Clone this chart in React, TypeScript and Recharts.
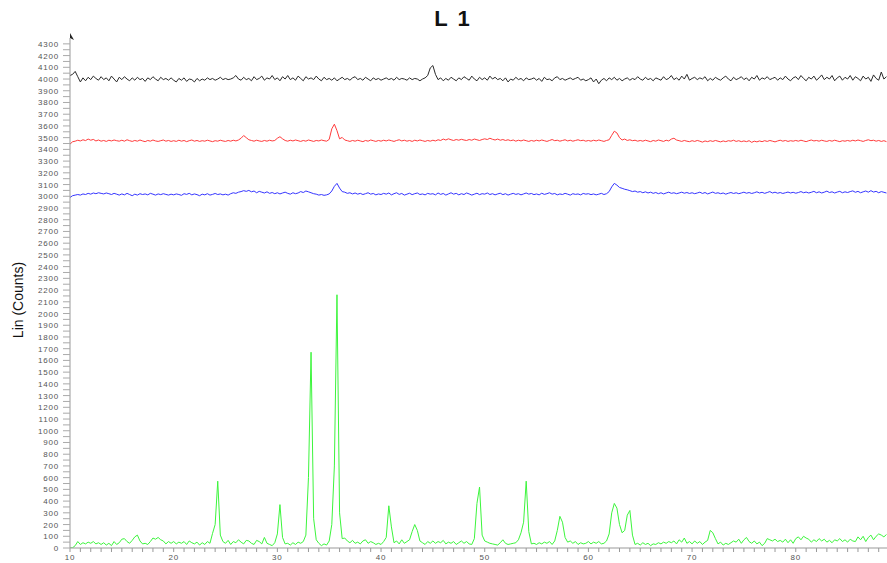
import { Line, LineChart, XAxis, YAxis } from 'recharts';

// 2-theta grid: 10 -> 88.75 deg, 0.25 deg step (rows below are 5 deg each)
const ANGLE_START = 10;
const ANGLE_STEP = 0.25;

const BLACK = [
  4030, 4040, 4065, 4020, 3975, 4010, 3985, 4015, 3995, 4025, 4005, 3990, 4020, 3995, 4010, 3985, 4025, 4000, 3975, 4015,
  3995, 4020, 4000, 3985, 4010, 3990, 4015, 3995, 4005, 3980, 4010, 3995, 4020, 4000, 3985, 4015, 3995, 4005, 3990, 4010,
  3990, 3975, 4005, 3990, 4010, 3980, 4000, 3995, 3975, 4005, 3985, 4000, 3990, 4010, 3995, 4005, 3990, 4000, 4015, 3995,
  4005, 3995, 4000, 4010, 4030, 4000, 3990, 4015, 3995, 4005, 3985, 4020, 3995, 4005, 4025, 3990, 4010, 4000, 4030, 3995,
  4010, 3985, 4020, 4000, 4030, 3995, 4010, 3990, 4025, 4005, 3985, 4020, 4000, 4010, 3995, 4025, 4000, 3985, 4015, 3995,
  4005, 3990, 4010, 3985, 4000, 4015, 3995, 4005, 3990, 4010, 4020, 3995, 4005, 3990, 4015, 4000, 3985, 4010, 3995, 4005,
  3990, 4000, 4010, 3995, 4005, 3990, 4015, 3995, 4005, 4000, 3990, 4010, 3995, 4005, 4000, 3985, 4000, 4010, 4030, 4095,
  4115, 4040, 3995, 4010, 3985, 4005, 3990, 4015, 4000, 3985, 4010, 3995, 4020, 4005, 3990, 4025, 4000, 3985, 4015, 3995,
  4010, 3990, 4025, 4000, 4015, 3995, 4005, 3985, 4010, 3975, 4000, 3990, 4015, 3995, 4005, 3985, 4010, 3995, 4000, 4010,
  3990, 4005, 3980, 4015, 3995, 4000, 3985, 4010, 4020, 3995, 4005, 3990, 4000, 4010, 3995, 4005, 4015, 3990, 4000, 3985,
  3995, 4010, 3975, 4000, 3960, 3990, 4005, 3985, 4010, 3995, 4015, 3990, 4005, 3985, 4000, 4010, 3990, 4005, 3995, 4020,
  4000, 3990, 4015, 3995, 4005, 3985, 4010, 4000, 3990, 4020, 3995, 4005, 4030, 3995, 4010, 3990, 4025, 4000, 4040, 3990,
  4005, 4015, 3995, 4010, 4000, 4020, 3985, 4005, 3990, 4015, 4000, 3990, 4010, 4025, 4000, 3985, 4015, 3995, 4005, 4020,
  3995, 4010, 3985, 4015, 4000, 4030, 3990, 4010, 4000, 4020, 3995, 4005, 4015, 3990, 4010, 3995, 4025, 4000, 3985, 4010,
  4020, 3995, 4030, 4005, 3985, 4015, 4000, 4025, 3990, 4010, 4035, 3995, 4015, 4000, 4030, 3985, 4010, 4025, 3990, 4015,
  4000, 4030, 3990, 4020, 4005, 3985, 4025, 4000, 4015, 3980, 4035, 4005, 3990, 4060, 4000, 4020,
];

const RED = [
  3445, 3465, 3470, 3478, 3472, 3482, 3475, 3488, 3478, 3485, 3472, 3480, 3470, 3476, 3468, 3478, 3472, 3480, 3474, 3470,
  3478, 3470, 3482, 3474, 3468, 3476, 3470, 3480, 3472, 3466, 3476, 3470, 3480, 3472, 3468, 3474, 3480, 3470, 3476, 3468,
  3474, 3468, 3478, 3470, 3476, 3466, 3474, 3480, 3470, 3476, 3468, 3474, 3470, 3478, 3472, 3466, 3474, 3470, 3478, 3472,
  3468, 3476, 3470, 3478, 3472, 3480, 3495, 3518, 3500, 3482, 3476, 3470, 3478, 3472, 3468, 3476, 3470, 3478, 3472, 3476,
  3495, 3508, 3490, 3476, 3470, 3478, 3472, 3480, 3474, 3468, 3476, 3470, 3480, 3474, 3468, 3476, 3472, 3480, 3474, 3470,
  3485, 3575, 3615, 3560, 3490, 3502, 3480, 3474, 3468, 3476, 3470, 3478, 3472, 3466, 3476, 3470, 3480, 3474, 3468, 3476,
  3470, 3478, 3472, 3480, 3474, 3468, 3476, 3482, 3472, 3478, 3470, 3476, 3468, 3478, 3472, 3480, 3474, 3468, 3476, 3470,
  3478, 3472, 3482, 3476, 3488, 3480, 3490, 3482, 3476, 3484, 3478, 3486, 3480, 3476, 3484, 3478, 3488, 3482, 3476, 3484,
  3490, 3484, 3495, 3486, 3480, 3488, 3478, 3484, 3476, 3482, 3474, 3480, 3470, 3478, 3472, 3480, 3474, 3468, 3476, 3470,
  3478, 3472, 3480, 3474, 3468, 3476, 3484, 3474, 3478, 3470, 3476, 3482, 3472, 3478, 3470, 3476, 3482, 3474, 3478, 3470,
  3476, 3470, 3478, 3472, 3480, 3474, 3468, 3476, 3482, 3520, 3555, 3540, 3500, 3480, 3488, 3476, 3482, 3474, 3478, 3470,
  3476, 3470, 3478, 3472, 3466, 3476, 3470, 3480, 3474, 3468, 3478, 3472, 3488, 3495, 3480, 3474, 3468, 3476, 3470, 3466,
  3474, 3468, 3476, 3470, 3462, 3472, 3466, 3474, 3468, 3476, 3470, 3464, 3472, 3466, 3474, 3470, 3478, 3468, 3474, 3466,
  3472, 3466, 3474, 3460, 3470, 3464, 3472, 3466, 3474, 3468, 3476, 3470, 3464, 3472, 3478, 3470, 3476, 3468, 3474, 3470,
  3476, 3470, 3478, 3472, 3466, 3474, 3480, 3472, 3476, 3470, 3478, 3472, 3468, 3476, 3470, 3478, 3472, 3466, 3474, 3470,
  3476, 3470, 3478, 3472, 3480, 3474, 3468, 3476, 3482, 3474, 3478, 3470, 3476, 3468, 3474, 3466,
];

const BLUE = [
  2990, 3005, 3010, 3015, 3010, 3020, 3015, 3025, 3018, 3028, 3022, 3030, 3025, 3020, 3028, 3022, 3015, 3025, 3018, 3010,
  3020, 3012, 3025, 3015, 3005, 3018, 3010, 3022, 3015, 3020, 3012, 3025, 3018, 3010, 3020, 3014, 3022, 3016, 3010, 3018,
  3012, 3020, 3015, 3008, 3022, 3016, 3025, 3012, 3020, 3014, 3005, 3018, 3012, 3022, 3010, 3016, 3024, 3015, 3020, 3012,
  3018, 3010, 3022, 3030, 3025, 3035, 3040, 3048, 3042, 3050, 3038, 3045, 3030, 3042, 3035, 3028, 3038, 3025, 3032, 3022,
  3030, 3020, 3028, 3035, 3025, 3018, 3030, 3022, 3028, 3040, 3032, 3045, 3038, 3030, 3022, 3018, 3010, 3015, 3008, 3012,
  3020, 3045, 3085, 3110, 3070, 3040, 3035, 3025, 3030, 3020, 3028, 3018, 3025, 3015, 3022, 3030, 3018, 3024, 3012, 3020,
  3015, 3025, 3018, 3028, 3012, 3022, 3030, 3016, 3024, 3010, 3018, 3026, 3014, 3022, 3028, 3015, 3020, 3012, 3025, 3018,
  3022, 3012, 3028, 3016, 3024, 3010, 3020, 3030, 3018, 3025, 3012, 3022, 3015, 3028, 3020, 3010, 3018, 3026, 3014, 3022,
  3018, 3028, 3015, 3022, 3012, 3020, 3026, 3014, 3022, 3010, 3018, 3025, 3016, 3022, 3012, 3020, 3028, 3018, 3024, 3014,
  3020, 3012, 3026, 3016, 3022, 3030, 3018, 3024, 3012, 3020, 3015, 3025, 3018, 3010, 3022, 3016, 3020, 3012, 3024, 3018,
  3022, 3014, 3020, 3012, 3018, 3025, 3015, 3022, 3040, 3080, 3110, 3095, 3075, 3068, 3060, 3055, 3048, 3040, 3045, 3035,
  3040, 3030, 3038, 3028, 3035, 3025, 3032, 3022, 3030, 3020, 3028, 3035, 3025, 3030, 3022, 3028, 3035, 3026, 3032, 3024,
  3030, 3022, 3028, 3035, 3024, 3032, 3020, 3028, 3036, 3025, 3030, 3022, 3028, 3018, 3026, 3032, 3024, 3030, 3022, 3028,
  3035, 3026, 3032, 3024, 3030, 3038, 3028, 3034, 3025, 3032, 3040, 3028, 3035, 3026, 3032, 3024, 3030, 3036, 3028, 3034,
  3026, 3032, 3040, 3030, 3036, 3028, 3034, 3042, 3030, 3038, 3028, 3035, 3044, 3032, 3038, 3028, 3036, 3042, 3030, 3038,
  3032, 3040, 3046, 3034, 3042, 3030, 3038, 3045, 3035, 3048, 3036, 3042, 3030, 3040, 3034, 3028,
];

const GREEN = [
  0, 2, 20, 55, 30, 45, 35, 50, 40, 55, 35, 45, 30, 45, 25, 40, 20, 55, 30, 45,
  75, 80, 55, 40, 65, 95, 110, 60, 35, 40, 30, 55, 85, 75, 90, 70, 60, 35, 55, 40,
  55, 35, 50, 40, 55, 30, 60, 45, 35, 50, 25, 45, 30, 55, 40, 125, 200, 570, 110, 55,
  40, 65, 30, 55, 45, 70, 50, 35, 65, 60, 40, 30, 65, 55, 35, 90, 40, 30, 20, 45,
  120, 370, 90, 35, 40, 25, 45, 30, 50, 40, 55, 110, 600, 1670, 250, 70, 40, 20, 35, 25,
  60, 200, 700, 2160, 300, 80, 85, 60, 45, 65, 40, 50, 35, 60, 70, 40, 55, 45, 30, 40,
  30, 55, 90, 360, 180, 45, 60, 35, 70, 40, 55, 70, 140, 200, 150, 60, 45, 30, 55, 40,
  60, 40, 55, 45, 65, 35, 50, 40, 55, 30, 45, 60, 40, 55, 35, 30, 80, 380, 520, 110,
  60, 50, 40, 35, 30, 25, 45, 70, 40, 30, 35, 40, 45, 70, 130, 220, 570, 140, 35, 40,
  30, 45, 35, 50, 40, 55, 30, 60, 150, 270, 220, 90, 50, 60, 40, 55, 30, 45, 35, 40,
  55, 35, 50, 40, 55, 35, 40, 60, 120, 300, 380, 340, 200, 130, 150, 280, 320, 110, 30, 40,
  25, 45, 30, 40, 20, 35, 30, 45, 35, 50, 40, 55, 45, 60, 35, 70, 50, 85, 40, 55,
  35, 60, 40, 55, 30, 50, 65, 150, 130, 80, 35, 50, 25, 40, 30, 45, 60, 50, 75, 40,
  70, 90, 55, 40, 60, 35, 50, 20, 40, 80, 70, 60, 75, 55, 65, 50, 75, 45, 70, 40,
  80, 95, 70, 100, 85, 75, 50, 70, 55, 80, 60, 75, 50, 65, 45, 70, 60, 80, 55, 70,
  50, 75, 60, 55, 95, 70, 100, 55, 90, 110, 70, 100, 120, 110, 95, 115,
];

const X_LABELS = [10, 20, 30, 40, 50, 60, 70, 80];
const Y_MAX = 4350;
const Y_LABEL_TOP = 4300;

const data = GREEN.map((g, i) => ({
  angle: ANGLE_START + i * ANGLE_STEP,
  black: BLACK[i],
  red: RED[i],
  blue: BLUE[i],
  green: g,
}));

// minor ticks every 1 deg / every 50 counts, labels only on the round ones
const xTicks = Array.from({ length: 79 }, (_, i) => 10 + i);
const yTicks = Array.from({ length: Y_LABEL_TOP / 50 + 1 }, (_, i) => i * 50);

const tickFont = "'Liberation Sans', Arial, sans-serif";

function YTick(props: any) {
  const { x, y, payload } = props;
  if (payload.value % 100 !== 0) return <g />;
  return (
    <text x={x} y={y} dy={3} textAnchor="end" fontSize={8} letterSpacing={0.8} fill="#555" fontFamily={tickFont}>
      {payload.value}
    </text>
  );
}

function XTick(props: any) {
  const { x, y, payload } = props;
  if (!X_LABELS.includes(payload.value)) return <g />;
  return (
    <text x={x} y={y} dy={6} textAnchor="middle" fontSize={8} letterSpacing={0.8} fill="#555" fontFamily={tickFont}>
      {payload.value}
    </text>
  );
}

export default function App() {
  return (
    <div style={{ position: 'absolute', left: 0, top: 0, width: 887, height: 563, background: '#fff', overflow: 'hidden' }}>
      <div
        style={{
          position: 'absolute',
          left: 0,
          width: 906,
          top: 6,
          textAlign: 'center',
          fontFamily: "'Liberation Sans', Arial, sans-serif",
          fontWeight: 'bold',
          fontSize: 22,
          letterSpacing: 2,
          color: '#111',
        }}
      >
        L 1
      </div>
      <div
        style={{
          position: 'absolute',
          left: 18,
          top: 300,
          transform: 'translate(-50%, -50%) rotate(-90deg)',
          whiteSpace: 'nowrap',
          fontFamily: "'Liberation Sans Narrow', 'Liberation Sans', Arial, sans-serif",
          fontSize: 14,
          color: '#111',
        }}
      >
        Lin (Counts)
      </div>
      {/* small arrowhead at the top of the y axis */}
      <svg width={10} height={8} style={{ position: 'absolute', left: 66, top: 33 }}>
        <path d="M4 0 L8 7 L4 5 Z" fill="#222" />
      </svg>
      <LineChart width={887} height={563} data={data} margin={{ top: 38, right: 0, bottom: 0, left: 0 }}>
        <XAxis
          dataKey="angle"
          type="number"
          domain={[10, 88.8]}
          ticks={xTicks}
          interval={0}
          tick={<XTick />}
          tickSize={4}
          height={15}
          axisLine={{ stroke: '#999' }}
          tickLine={{ stroke: '#999' }}
          allowDataOverflow
        />
        <YAxis
          type="number"
          domain={[0, Y_MAX]}
          ticks={yTicks}
          interval={0}
          tick={<YTick />}
          tickSize={7}
          tickMargin={4}
          width={70}
          axisLine={{ stroke: '#999' }}
          tickLine={{ stroke: '#aaa' }}
          allowDataOverflow
        />
        <Line type="linear" dataKey="black" stroke="#2a2a2a" strokeWidth={1} dot={false} isAnimationActive={false} />
        <Line type="linear" dataKey="red" stroke="#ff3b3b" strokeWidth={1} dot={false} isAnimationActive={false} />
        <Line type="linear" dataKey="blue" stroke="#3535ff" strokeWidth={1} dot={false} isAnimationActive={false} />
        <Line type="linear" dataKey="green" stroke="#3cf53c" strokeWidth={1} dot={false} isAnimationActive={false} />
      </LineChart>
    </div>
  );
}
